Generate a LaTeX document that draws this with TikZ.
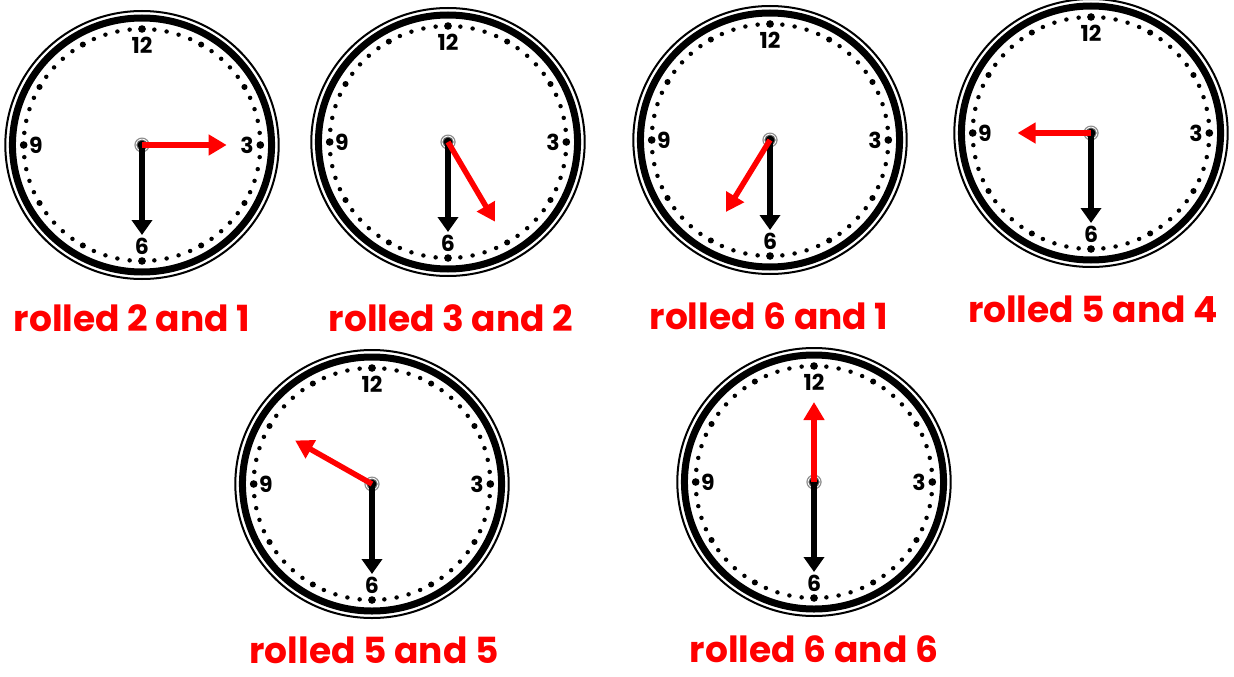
\documentclass[tikz,border=0pt]{standalone}
\usepackage{fontspec}
\setmainfont{Poppins}
\usetikzlibrary{arrows.meta}
\definecolor{rollred}{RGB}{255,0,0}

\begin{document}
\begin{tikzpicture}[x=1pt,y=-1pt,
    rolltext/.style={text=rollred,font=\fontsize{36}{40}\selectfont\bfseries},
    digit/.style={font=\fontsize{22}{24}\selectfont\bfseries},
    minutehand/.style={line width=6pt,-{Triangle[width=20pt,length=15pt]}},
    hourhand/.style={draw=rollred,fill=rollred,line width=5.5pt,-{Triangle[width=20pt,length=18pt]}}]
  \useasboundingbox (0,0) rectangle (1234,677);
  \foreach \cx/\cy/\ang/\len/\lx/\ly/\txt [count=\i] in {
      142/145/0/83/132/318/rolled 2 and 1,
      448/142/-60/92/451/318/rolled 3 and 2,
      770/140/-121/84/769/316/rolled 6 and 1,
      1091/133/180/72/1093/309/rolled 5 and 4,
      372/484/150/87/374/650/rolled 5 and 5,
      814/482/90/80/814/649/rolled 6 and 6}{
    \begin{scope}[shift={(\cx,\cy)},yscale=-1,xscale=1.02]
      % rim
      \draw[line width=2pt] (0,0) circle (134);
      \draw[line width=7pt] (0,0) circle (127);
      % minute and hour dots
      \foreach \m in {0,6,...,354} \fill (\m:116) circle (2.2);
      \foreach \m in {0,30,...,330} \fill (\m:116) circle (3);
      \foreach \m in {0,90,180,270} \fill (\m:116) circle (3.8);
      \node[digit] at (90:100) {12};
      \node[digit] at (0:103) {3};
      \node[digit] at (270:101) {6};
      \node[digit] at (180:104) {9};
      % hub and hands
      \coordinate (hub\i) at (0,0);
      \coordinate (min\i) at (270:90);
      \coordinate (hr\i) at (\ang:\len);
      \fill[black!45] (hub\i) circle (7.5);
      \fill[white] (hub\i) circle (6.2);
      \fill[black!60] (hub\i) circle (5.5);
      \fill (hub\i) circle (4.3);
      \draw[minutehand] (hub\i) -- (min\i);
      \draw[hourhand] (hub\i) -- (hr\i);
    \end{scope}
    \node[rolltext] (lbl\i) at (\lx,\ly) {\txt};
  }
\end{tikzpicture}
\end{document}
